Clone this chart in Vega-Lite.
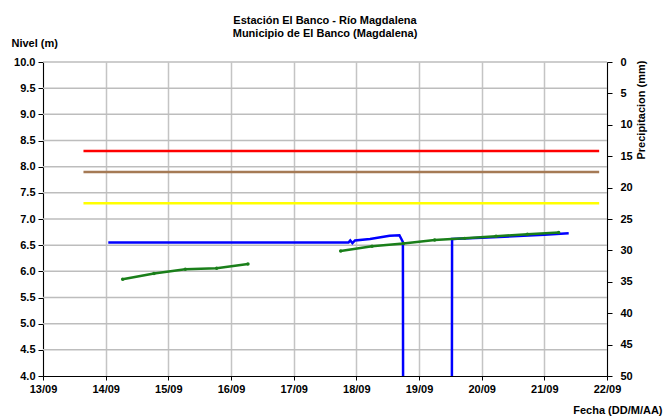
{
  "$schema": "https://vega.github.io/schema/vega-lite/v6.json",
  "autosize": "none",
  "width": 564,
  "height": 314,
  "padding": {"left": 43, "top": 62, "right": 57, "bottom": 44},
  "background": "white",
  "config": {
    "font": "Liberation Sans",
    "view": {"stroke": null},
    "axis": {
      "labelFont": "Liberation Sans",
      "labelFontWeight": "bold",
      "labelFontSize": 11,
      "labelColor": "black",
      "labelOverlap": false,
      "labelFlush": false,
      "titleFont": "Liberation Sans",
      "titleFontWeight": "bold",
      "titleFontSize": 11,
      "titleColor": "black",
      "domainColor": "black",
      "tickColor": "black",
      "gridColor": "#c4c4c4",
      "gridWidth": 1.5,
      "gridOpacity": 1
    },
    "axisX": {"grid": true}
  },
  "title": {
    "text": ["Estación El Banco - Río Magdalena", "Municipio de El Banco (Magdalena)"],
    "font": "Liberation Sans",
    "fontSize": 11,
    "fontWeight": "bold",
    "color": "black",
    "anchor": "middle",
    "offset": -2,
    "lineHeight": 13
  },
  "datasets": {
    "grilla": [
      {"nivel": 4.5}, {"nivel": 5.0}, {"nivel": 5.5}, {"nivel": 6.0}, {"nivel": 6.5},
      {"nivel": 7.0}, {"nivel": 7.5}, {"nivel": 8.0}, {"nivel": 8.5}, {"nivel": 9.0},
      {"nivel": 9.5}, {"nivel": 10.0}
    ],
    "umbrales": [
      {"alerta": "Roja", "nivel": 8.3, "inicio": "2023-09-13T15:30", "fin": "2023-09-21T21:00"},
      {"alerta": "Naranja", "nivel": 7.9, "inicio": "2023-09-13T15:30", "fin": "2023-09-21T21:00"},
      {"alerta": "Amarilla", "nivel": 7.3, "inicio": "2023-09-13T15:30", "fin": "2023-09-21T21:00"}
    ],
    "sensor": [
      {"fecha": "2023-09-14T01:00", "nivel": 6.55},
      {"fecha": "2023-09-15T12:00", "nivel": 6.55},
      {"fecha": "2023-09-17T12:00", "nivel": 6.55},
      {"fecha": "2023-09-17T21:00", "nivel": 6.55},
      {"fecha": "2023-09-17T21:40", "nivel": 6.59},
      {"fecha": "2023-09-17T22:30", "nivel": 6.54},
      {"fecha": "2023-09-17T23:30", "nivel": 6.59},
      {"fecha": "2023-09-18T05:15", "nivel": 6.62},
      {"fecha": "2023-09-18T12:45", "nivel": 6.68},
      {"fecha": "2023-09-18T16:30", "nivel": 6.69},
      {"fecha": "2023-09-18T17:50", "nivel": 6.56},
      {"fecha": "2023-09-18T18:00", "nivel": 0},
      {"fecha": "2023-09-19T12:30", "nivel": 0},
      {"fecha": "2023-09-19T12:40", "nivel": 6.62},
      {"fecha": "2023-09-20T00:00", "nivel": 6.64},
      {"fecha": "2023-09-20T12:00", "nivel": 6.67},
      {"fecha": "2023-09-21T00:00", "nivel": 6.70},
      {"fecha": "2023-09-21T09:20", "nivel": 6.73}
    ],
    "mira": [
      {"tramo": 1, "fecha": "2023-09-14T06:30", "nivel": 5.85},
      {"tramo": 1, "fecha": "2023-09-14T18:30", "nivel": 5.96},
      {"tramo": 1, "fecha": "2023-09-15T06:30", "nivel": 6.04},
      {"tramo": 1, "fecha": "2023-09-15T18:30", "nivel": 6.06},
      {"tramo": 1, "fecha": "2023-09-16T06:30", "nivel": 6.14},
      {"tramo": 2, "fecha": "2023-09-17T18:00", "nivel": 6.39},
      {"tramo": 2, "fecha": "2023-09-18T06:00", "nivel": 6.48},
      {"tramo": 2, "fecha": "2023-09-18T18:00", "nivel": 6.53},
      {"tramo": 2, "fecha": "2023-09-19T06:00", "nivel": 6.60},
      {"tramo": 2, "fecha": "2023-09-19T17:30", "nivel": 6.63},
      {"tramo": 2, "fecha": "2023-09-20T05:30", "nivel": 6.67},
      {"tramo": 2, "fecha": "2023-09-20T17:30", "nivel": 6.71},
      {"tramo": 2, "fecha": "2023-09-21T05:30", "nivel": 6.74}
    ]
  },
  "layer": [
    {
      "data": {"values": []},
      "mark": {"type": "rule", "opacity": 0},
      "encoding": {
        "y": {
          "field": "precipitacion", "type": "quantitative",
          "scale": {"domain": [4, 10], "nice": false, "zero": false},
          "axis": {
            "orient": "right", "title": "Precipitacion (mm)",
            "values": [10, 9.4, 8.8, 8.2, 7.6, 7, 6.4, 5.8, 5.2, 4.6, 4],
            "labelExpr": "format(round((10 - datum.value) * 50 / 6), 'd')",
            "grid": false,
            "tickSize": 5, "labelPadding": 8,
            "labelFontWeight": "bold", "labelFlush": false,
            "titleAngle": 270, "titleAlign": "right", "titleBaseline": "alphabetic",
            "titleX": 37, "titleY": -2
          }
        }
      }
    },
    {
      "data": {"name": "grilla"},
      "mark": {"type": "rule", "color": "#bdbdbd", "strokeWidth": 1.5},
      "encoding": {
        "y": {"field": "nivel", "type": "quantitative", "axis": null}
      }
    },
    {
      "data": {"name": "umbrales"},
      "mark": {"type": "rule", "strokeWidth": 2.5},
      "encoding": {
        "x": {
          "field": "inicio", "type": "temporal",
          "scale": {"domain": [{"year": 2023, "month": 9, "date": 13}, {"year": 2023, "month": 9, "date": 22}]},
          "axis": {
            "title": "Fecha (DD/M/AA)", "format": "%d/%m",
            "values": [
              {"year": 2023, "month": 9, "date": 13}, {"year": 2023, "month": 9, "date": 14},
              {"year": 2023, "month": 9, "date": 15}, {"year": 2023, "month": 9, "date": 16},
              {"year": 2023, "month": 9, "date": 17}, {"year": 2023, "month": 9, "date": 18},
              {"year": 2023, "month": 9, "date": 19}, {"year": 2023, "month": 9, "date": 20},
              {"year": 2023, "month": 9, "date": 21}, {"year": 2023, "month": 9, "date": 22}
            ],
            "grid": true, "tickSize": 4, "labelPadding": 3,
            "labelFontWeight": "bold", "labelOverlap": false, "labelFlush": false,
            "titleAnchor": "end", "titleAlign": "right", "titleBaseline": "alphabetic",
            "titleX": 619, "titleY": 37
          }
        },
        "x2": {"field": "fin"},
        "y": {
          "field": "nivel", "type": "quantitative",
          "axis": {
            "orient": "left",
            "title": "Nivel (m)", "format": ".1f",
            "values": [4, 4.5, 5, 5.5, 6, 6.5, 7, 7.5, 8, 8.5, 9, 9.5, 10],
            "grid": false, "tickSize": 5, "labelPadding": 3,
            "labelFontWeight": "bold", "labelOverlap": false, "labelFlush": false,
            "titleAngle": 0, "titleAlign": "left", "titleBaseline": "alphabetic",
            "titleX": -32, "titleY": -16
          }
        },
        "color": {
          "field": "alerta", "type": "nominal",
          "scale": {"domain": ["Roja", "Naranja", "Amarilla"], "range": ["#ff0000", "#a57a55", "#ffff00"]},
          "legend": null
        }
      }
    },
    {
      "data": {"name": "sensor"},
      "mark": {"type": "line", "color": "#0000ff", "strokeWidth": 2.5, "clip": true},
      "encoding": {
        "x": {"field": "fecha", "type": "temporal", "title": "Fecha (DD/M/AA)"},
        "y": {"field": "nivel", "type": "quantitative", "axis": null}
      }
    },
    {
      "data": {"name": "mira"},
      "mark": {"type": "line", "color": "#1a7f1a", "strokeWidth": 2.5, "clip": true, "point": {"filled": true, "size": 12, "color": "#1a7f1a"}},
      "encoding": {
        "x": {"field": "fecha", "type": "temporal", "title": "Fecha (DD/M/AA)"},
        "y": {"field": "nivel", "type": "quantitative", "axis": null},
        "detail": {"field": "tramo", "type": "nominal"}
      }
    }
  ],
  "resolve": {"axis": {"y": "independent"}}
}
